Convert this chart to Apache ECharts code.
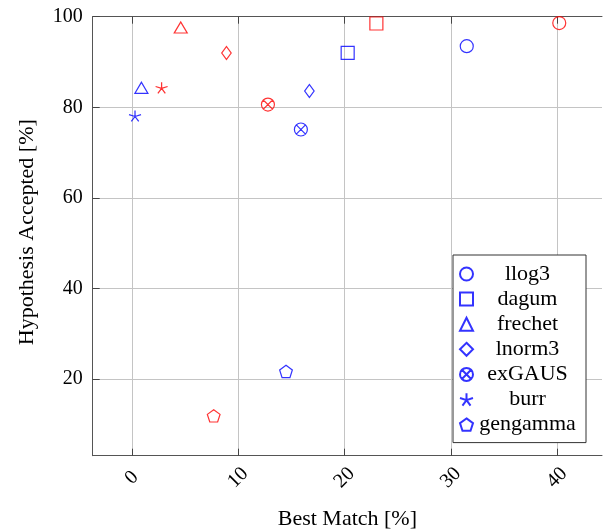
<!DOCTYPE html>
<html>
<head>
<meta charset="utf-8">
<script src="https://cdn.jsdelivr.net/npm/echarts@6/dist/echarts.min.js"></script>
<style>
  html, body { margin: 0; padding: 0; background: #fff; }
  #chart { width: 603px; height: 530px; }
</style>
</head>
<body>
<div id="chart"></div>
<script>
// Fitted distributions
const distributions = ['llog3', 'dagum', 'frechet', 'lnorm3', 'exGAUS', 'burr', 'gengamma'];

// First data set (blue markers)
const blueBestMatch = [31.5, 20.3, 0.9, 16.7, 15.9, 0.3, 14.5];
const blueAccepted  = [93.5, 92.0, 84.3, 83.6, 75.1, 78.1, 21.7];

// Second data set (red markers)
const redBestMatch = [40.2, 23.0, 4.6, 8.9, 12.8, 2.8, 7.7];
const redAccepted  = [98.6, 98.5, 97.6, 92.0, 80.6, 84.3, 11.9];

// Tick positions
const xTicks = [0, 10, 20, 30, 40];
const yTicks = [20, 40, 60, 80, 100];

const BLUE = '#0000ff';
const RED = '#ff0000';
const FONT = '"Liberation Serif", "DejaVu Serif", serif';

// Marker shapes, one per distribution
const markers = [
  { symbol: 'circle', size: 13 },
  { symbol: 'rect', size: 13 },
  { symbol: 'triangle', size: [13, 11] },
  { symbol: 'diamond', size: [9.5, 13] },
  { symbol: 'path://M0,10A10,10,0,1,1,20,10A10,10,0,1,1,0,10ZM2.93,2.93L17.07,17.07M17.07,2.93L2.93,17.07', size: 13 },
  { symbol: 'path://M10,10L10,0M10,10L19.51,6.91M10,10L15.88,18.09M10,10L4.12,18.09M10,10L0.49,6.91', size: [12, 11] },
  { symbol: 'path://M10,0L19.51,6.91L15.88,18.09L4.12,18.09L0.49,6.91Z', size: [12.7, 12.3] }
];

function makeSeries(name, idx, x, y, color) {
  return {
    type: 'scatter',
    name: name,
    data: [[x, y]],
    symbol: markers[idx].symbol,
    symbolSize: markers[idx].size,
    itemStyle: { color: 'rgba(0,0,0,0)', borderColor: color, borderWidth: 1.2 },
    emphasis: { disabled: true },
    clip: false
  };
}

const series = [];
distributions.forEach((d, i) => series.push(makeSeries(d, i, blueBestMatch[i], blueAccepted[i], BLUE)));
distributions.forEach((d, i) => series.push(makeSeries(d, i, redBestMatch[i], redAccepted[i], RED)));

const X_MIN = -3.68, X_MAX = 44.22;
const Y_MIN = 3.1, Y_MAX = 100;

const axisLineStyle = { color: '#555', width: 1 };
const tickStyle = { color: '#444', width: 1 };

const chart = echarts.init(document.getElementById('chart'), null, { renderer: 'canvas' });
chart.setOption({
  animation: false,
  backgroundColor: '#fff',
  grid: { left: 92.7, top: 16.7, right: 1, bottom: 74.3, containLabel: false, outerBoundsMode: 'none' },
  xAxis: [
    {
      type: 'value', position: 'bottom', min: X_MIN, max: X_MAX,
      name: 'Best Match [%]', nameLocation: 'middle', nameGap: 53,
      nameTextStyle: { fontFamily: FONT, fontSize: 22, color: '#000' },
      axisLine: { show: true, onZero: false, lineStyle: axisLineStyle },
      axisTick: { show: true, inside: true, length: 7, lineStyle: tickStyle, customValues: xTicks },
      axisLabel: {
        customValues: xTicks, rotate: 45, align: 'center', verticalAlign: 'middle', margin: 22,
        fontFamily: FONT, fontSize: 20, color: '#000'
      },
      splitLine: { show: true, lineStyle: { color: '#c4c4c4', width: 1 } }
    },
    {
      type: 'value', position: 'top', min: X_MIN, max: X_MAX,
      axisLine: { show: true, onZero: false, lineStyle: axisLineStyle },
      axisTick: { show: true, inside: true, length: 7, lineStyle: tickStyle, customValues: xTicks },
      axisLabel: { show: false },
      splitLine: { show: false }
    }
  ],
  yAxis: [
    {
      type: 'value', position: 'left', min: Y_MIN, max: Y_MAX,
      name: 'Hypothesis Accepted [%]', nameLocation: 'middle', nameGap: 54,
      nameTextStyle: { fontFamily: FONT, fontSize: 22, color: '#000', padding: [0, 0, 0, 8] },
      axisLine: { show: true, onZero: false, lineStyle: axisLineStyle },
      axisTick: { show: true, inside: true, length: 7, lineStyle: tickStyle, customValues: yTicks },
      axisLabel: { customValues: yTicks, margin: 10, fontFamily: FONT, fontSize: 20, color: '#000' },
      splitLine: { show: true, lineStyle: { color: '#c4c4c4', width: 1 } }
    }
  ],
  legend: {
    orient: 'vertical',
    left: 453, top: 255,
    padding: [8, 9, 7, 6],
    itemGap: 3.1,
    itemWidth: 13, itemHeight: 13,
    backgroundColor: '#fff',
    borderColor: '#333', borderWidth: 1,
    data: distributions,
    selectedMode: false,
    formatter: name => '{t|' + name + '}',
    textStyle: {
      rich: { t: { width: 99, align: 'center', fontFamily: FONT, fontSize: 22, lineHeight: 20, color: '#000' } }
    }
  },
  series: series
});
</script>
</body>
</html>
